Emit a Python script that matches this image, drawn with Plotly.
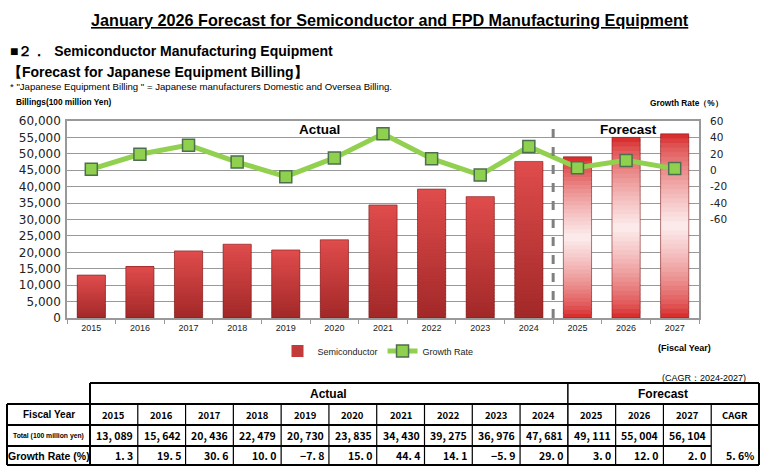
import plotly.graph_objects as go

# ---------------- data ----------------
years = ['2015', '2016', '2017', '2018', '2019', '2020', '2021',
         '2022', '2023', '2024', '2025', '2026', '2027']
billing = [13089, 15642, 20436, 22479, 20730, 23835, 34430,
           39275, 36976, 47681, 49111, 55004, 56104]
growth = [1.3, 19.5, 30.6, 10.0, -7.8, 15.0, 44.4,
          14.1, -5.9, 29.0, 3.0, 12.0, 2.0]
n_actual = 10
cagr_text = '5.6%'
left_ticks = list(range(0, 60001, 5000))
right_ticks = [-60, -40, -20, 0, 20, 40, 60]
row_labels = ['Fiscal Year', 'Total (100 million yen)', 'Growth Rate (%)']

# ---------------- helpers ----------------
W, H = 768, 475


def px(x):
    return x / W


def py(y):
    return 1 - y / H


PL, PR, PT, PB = 67, 699, 121, 318


def lerp(c1, c2, t):
    return tuple(int(round(a + (b - a) * t)) for a, b in zip(c1, c2))


def rgb(c):
    return 'rgb(%d,%d,%d)' % c


fig = go.Figure()

# bars drawn as stacked gradient slices of each value (slices overlap slightly to hide seams)
N = 40
for i in range(N):
    t = (i + 0.5) / N
    cols = []
    for k in range(len(years)):
        if k < n_actual:
            c = lerp((162, 40, 40), (224, 76, 76), t)
        else:
            w = (1 - abs(2 * t - 1)) ** 0.7
            c = lerp((214, 32, 32), (253, 237, 237), w)
        cols.append(rgb(c))
    frac = 1.0 if i == N - 1 else 1.6
    fig.add_trace(go.Bar(
        x=years, y=[v / N * frac for v in billing], base=[v * i / N for v in billing],
        marker=dict(color=cols, line=dict(width=0)), width=0.58,
        name='Semiconductor', showlegend=(i == N // 2), hoverinfo='skip'))

# outline of bars
fig.add_trace(go.Bar(
    x=years, y=billing, width=0.58,
    marker=dict(color='rgba(0,0,0,0)', line=dict(color='rgba(120,20,20,0.7)', width=0.8)),
    showlegend=False, hoverinfo='skip'))

fig.add_trace(go.Scatter(
    x=years, y=growth, yaxis='y2', mode='lines+markers', name='Growth Rate',
    line=dict(color='#92d050', width=5),
    marker=dict(symbol='square', size=12, color='#8fd14f',
                line=dict(color='#4e6e50', width=1.5))))

fig.update_layout(
    width=W, height=H, autosize=False,
    margin=dict(l=0, r=0, t=0, b=0, pad=0, autoexpand=False),
    paper_bgcolor='white', plot_bgcolor='white',
    barmode='overlay',
    font=dict(family='Liberation Sans, Arial', color='#000'),
    xaxis=dict(domain=[px(PL), px(PR)], type='category', anchor='y', automargin=False,
               range=[-0.5, len(years) - 0.5],
               showline=True, linecolor='#999', linewidth=1.5, mirror=True,
               ticks='outside', tickson='boundaries', ticklen=4, tickcolor='#999',
               tickfont=dict(family='Liberation Sans', size=9, color='#222'),
               showgrid=False),
    yaxis=dict(domain=[py(PB), py(PT)], range=[0, 60000], tickvals=left_ticks,
               tickformat=',', showgrid=True, gridcolor='#999', gridwidth=1, automargin=False,
               showline=True, linecolor='#999', linewidth=1.5, mirror=True,
               zeroline=False, ticks='', ticklabelstandoff=2,
               tickfont=dict(family='DejaVu Sans', size=12, color='#222')),
    yaxis2=dict(overlaying='y', side='right', anchor='x', range=[-180, 60], automargin=False,
                tickvals=right_ticks, ticktext=[str(v) for v in right_ticks],
                showgrid=False, zeroline=False,
                showline=False, ticks='', ticklabelstandoff=10,
                tickfont=dict(family='DejaVu Sans', size=10.5, color='#222')),
    legend=dict(orientation='h', x=px(378), xanchor='center', y=py(351),
                yanchor='middle', font=dict(size=9, color='#222'),
                itemwidth=30, bgcolor='rgba(0,0,0,0)', tracegroupgap=0),
)

shapes = []
# actual / forecast divider
shapes.append(dict(type='line', xref='x', yref='paper', x0=n_actual - 0.5, x1=n_actual - 0.5,
                   y0=py(PB), y1=py(PT), line=dict(color='#808080', width=3, dash='dash')))

ann = []


def text(x, y, s, size, bold=False, xanchor='center', family=None, color='#000'):
    ann.append(dict(x=px(x), y=py(y), xref='paper', yref='paper', showarrow=False,
                    text=('<b>%s</b>' % s) if bold else s, xanchor=xanchor, yanchor='middle',
                    font=dict(size=size, color=color, family=family or 'Liberation Sans, Arial')))


# titles
text(390, 20, '<u>January 2026 Forecast for Semiconductor and FPD Manufacturing Equipment</u>', 16.2, True)
text(8, 51, '■２．  Semiconductor Manufacturing Equipment', 14, True, 'left')
text(6, 72, '【Forecast for Japanese Equipment Billing】', 14, True, 'left')
text(8, 87, '* "Japanese Equipment Billing " = Japanese manufacturers Domestic and Oversea Billing.', 9.6,
     False, 'left')
text(14, 102, 'Billings(100 million Yen)', 8.3, True, 'left')
text(648, 103, 'Growth Rate（%）', 8.3, True, 'left')
text(319, 129, 'Actual', 13.5, True)
text(628, 130, 'Forecast', 13.5, True)
text(684, 348, '(Fiscal Year)', 9, True)
text(748, 378, '(CAGR：2024-2027)', 9, False, 'right')

# ---------------- table ----------------
TL, C0, TR = 7, 90, 759
ncol = len(years) + 1
cw = (TR - C0) / ncol
r_head, r_fy, r_tot, r_gr, r_end = 383, 404, 425, 446, 465
split_x = C0 + n_actual * cw


def line(x0, y0, x1, y1, w=1.2):
    shapes.append(dict(type='line', xref='paper', yref='paper', x0=px(x0), x1=px(x1),
                       y0=py(y0), y1=py(y1), line=dict(color='#000', width=w)))


# outer borders
line(C0, r_head, TR, r_head, 2)
line(C0, r_head, C0, r_fy, 2)
line(TR, r_head, TR, r_end, 2)
line(split_x, r_head, split_x, r_fy, 1.5)
line(TL, r_fy, TR, r_fy, 2)
line(TL, r_fy, TL, r_end, 2)
line(TL, r_end, TR, r_end, 2)
line(TL, r_tot, TR, r_tot, 2)
line(TL, r_gr, TR - cw, r_gr, 2)
line(C0, r_fy, C0, r_end, 2)
for k in range(1, ncol):
    line(C0 + k * cw, r_fy, C0 + k * cw, r_end, 1.5 if k == n_actual else 1.2)

text((C0 + split_x) / 2, (r_head + r_fy) / 2, 'Actual', 12, True)
text((split_x + TR) / 2, (r_head + r_fy) / 2, 'Forecast', 12, True)
text((TL + C0) / 2, (r_fy + r_tot) / 2, row_labels[0], 10, True)
text((TL + C0) / 2, (r_tot + r_gr) / 2, row_labels[1], 6.8, True)
text((TL + C0) / 2, (r_gr + r_end) / 2, row_labels[2], 10.5, True)

num_font = 'Noto Sans CJK JP'
for k, yr in enumerate(years):
    cx = C0 + (k + 0.5) * cw
    rx = C0 + (k + 1) * cw - 3
    text(cx, (r_fy + r_tot) / 2, yr, 9.5, True, family=num_font)
    text(rx, (r_tot + r_gr) / 2, '{:,}'.format(billing[k]).replace(',', ', '), 10.5, True, 'right',
         family=num_font)
    g = growth[k]
    gs = ('−%.1f' % abs(g)) if g < 0 else '%.1f' % g
    text(rx, (r_gr + r_end) / 2, gs.replace('.', '. '), 10.5, True, 'right', family=num_font)
text(C0 + (ncol - 0.5) * cw, (r_fy + r_tot) / 2, 'CAGR', 9.5, True, family=num_font)
text(TR - 3, (r_gr + r_end) / 2, cagr_text.replace('.', '. '), 10.5, True, 'right', family=num_font)

fig.update_layout(shapes=shapes, annotations=ann)
fig.write_html('out.html', config={'displayModeBar': False},
               post_script="document.body.style.margin='0px';")
